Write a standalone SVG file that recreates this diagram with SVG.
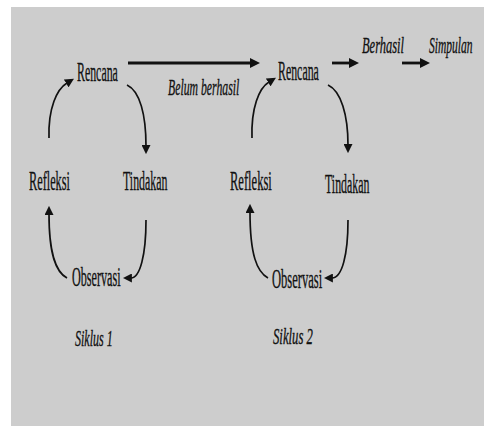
<svg xmlns="http://www.w3.org/2000/svg" width="484" height="426" viewBox="0 0 484 426">
<style>
.t{font-family:"Liberation Serif","Times New Roman",serif;font-size:27px;fill:#111;stroke:#111;stroke-width:0.35}
.i{font-style:italic;font-size:24px}
.c{fill:none;stroke:#111;stroke-width:1.7}
.s{fill:none;stroke:#111;stroke-width:2.8}
</style>
<defs>
<marker id="ah" viewBox="0 0 10 10" markerUnits="userSpaceOnUse" markerWidth="9" markerHeight="9" refX="1" refY="5" orient="auto">
<path d="M0,0 L10,5 L0,10 z" fill="#111"/>
</marker>
<marker id="ahb" viewBox="0 0 10 10" markerUnits="userSpaceOnUse" markerWidth="10" markerHeight="11" refX="1" refY="5" orient="auto">
<path d="M0,0 L10,5 L0,10 z" fill="#111"/>
</marker>
</defs>
<rect x="0" y="0" width="484" height="426" fill="#ffffff"/>
<rect x="11" y="7" width="473" height="419" fill="#cdcdcd"/>
<g id="connectors">
<path class="s" d="M128,63 H251" marker-end="url(#ahb)"/>
<path class="s" d="M332,63 H350" marker-end="url(#ahb)"/>
<path class="s" d="M402,63 H421" marker-end="url(#ahb)"/>
<path class="c" d="M49,138 C48,108 57,89 67,83" marker-end="url(#ah)"/>
<path class="c" d="M127,85 C140,91 146,115 146,146" marker-end="url(#ah)"/>
<path class="c" d="M146,220 C146,255 140,278 131,278" marker-end="url(#ah)"/>
<path class="c" d="M67,278 C56,272 49,255 49,214" marker-end="url(#ah)"/>
<path class="c" d="M252,138 C251,108 259,88 269,82" marker-end="url(#ah)"/>
<path class="c" d="M328,85 C341,91 348,115 348,145" marker-end="url(#ah)"/>
<path class="c" d="M348,220 C348,255 342,278 332,278" marker-end="url(#ah)"/>
<path class="c" d="M268,278 C257,272 250,255 250,212" marker-end="url(#ah)"/>
</g>
<g id="rencana1"><text class="t" transform="matrix(0.44 0 0 1 77 81)">Rencana</text></g>
<g id="tindakan1"><text class="t" transform="matrix(0.44 0 0 1 123 190)">Tindakan</text></g>
<g id="observasi1"><text class="t" transform="matrix(0.45 0 0 1 72 286)">Observasi</text></g>
<g id="refleksi1"><text class="t" transform="matrix(0.455 0 0 1 29 190)">Refleksi</text></g>
<g id="siklus1"><text class="t i" transform="matrix(0.5 0 0 1 75 346)">Siklus 1</text></g>
<g id="belum"><text class="t i" transform="matrix(0.49 0 0 1 168 95)">Belum berhasil</text></g>
<g id="rencana2"><text class="t" transform="matrix(0.44 0 0 1 278 80)">Rencana</text></g>
<g id="tindakan2"><text class="t" transform="matrix(0.44 0 0 1 325 193)">Tindakan</text></g>
<g id="observasi2"><text class="t" transform="matrix(0.465 0 0 1 272 288)">Observasi</text></g>
<g id="refleksi2"><text class="t" transform="matrix(0.465 0 0 1 230 190)">Refleksi</text></g>
<g id="siklus2"><text class="t i" transform="matrix(0.53 0 0 1 273 344)">Siklus 2</text></g>
<g id="berhasil"><text class="t i" transform="matrix(0.52 0 0 1 362 53)">Berhasil</text></g>
<g id="simpulan"><text class="t i" transform="matrix(0.48 0 0 1 429 53)">Simpulan</text></g>
</svg>
